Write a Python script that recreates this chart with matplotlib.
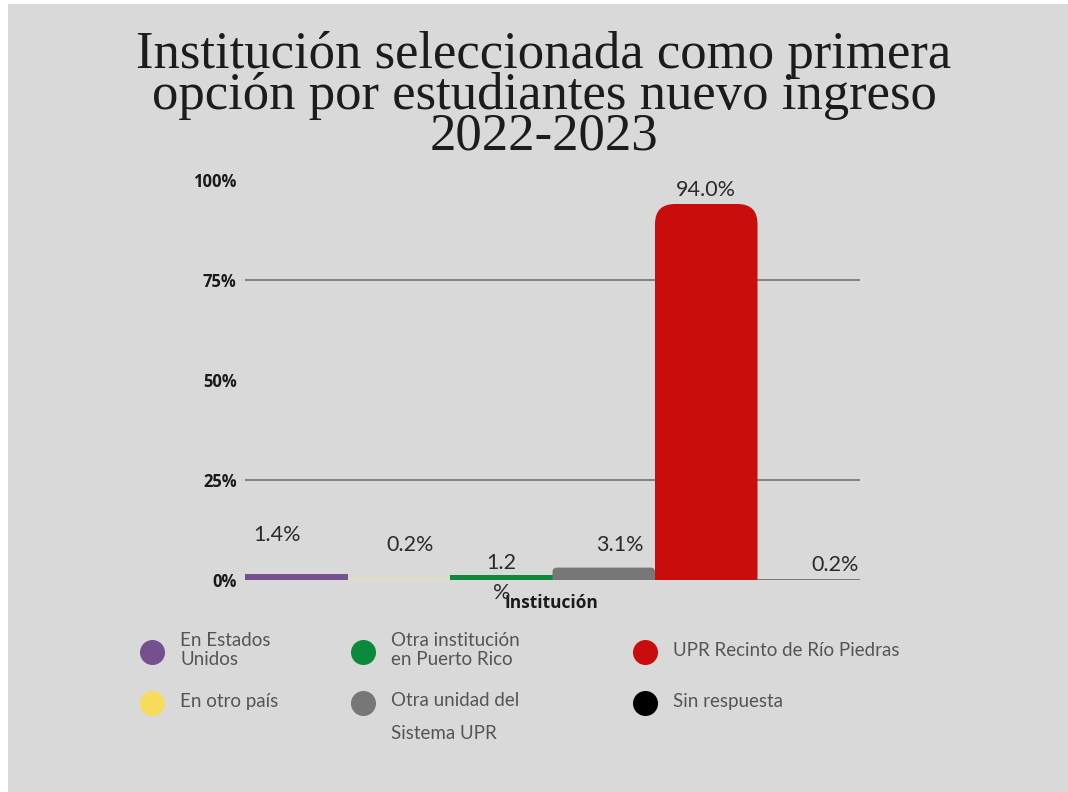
import matplotlib.pyplot as plt
from matplotlib.patches import FancyBboxPatch, Rectangle
from matplotlib.lines import Line2D

# data
categories = ['En Estados\nUnidos', 'En otro país', 'Otra institución\nen Puerto Rico',
              'Otra unidad del\n\nSistema UPR', 'UPR Recinto de Río Piedras', 'Sin respuesta']
values = [1.4, 0.2, 1.2, 3.1, 94.0, 0.2]
value_labels = ['1.4%', '0.2%', '1.2\n%', '3.1%', '94.0%', '0.2%']
bar_colors = ['#74508f', '#efe0a0', '#0a8a3a', '#777777', '#c90c0c', '#777777']
legend_colors = ['#74508f', '#f7dc5c', '#0a8a3a', '#777777', '#c90c0c', '#000000']
yticks = [0, 25, 50, 75, 100]
ytick_labels = ['0%', '25%', '50%', '75%', '100%']
gridlines = [25, 75]

BG = '#d9d9d9'
W, H = 1068, 792

fig = plt.figure(figsize=(W / 100, H / 100), dpi=100)
fig.patch.set_facecolor('white')
fig.add_artist(Rectangle((8 / W, 0), 1 - 8 / W, 1 - 4 / H, transform=fig.transFigure,
                         facecolor=BG, edgecolor='none', zorder=-10))

ax = fig.add_axes([245 / W, 1 - 580 / H, 615 / W, 400 / H])
ax.set_facecolor('none')
ax.set_xlim(-0.5, len(values) - 0.5)
ax.set_ylim(0, 100)

for g in gridlines:
    ax.axhline(g, color='#6a6a6a', lw=1.1, zorder=1)
ax.axhline(0, color='#8a8a8a', lw=1.1, zorder=1)

# bars, with rounded tops (px per unit: x 102.5, y 4)
px_x = 615 / len(values)
px_y = 400 / 100
aspect = px_x / px_y
bars = ax.bar(range(len(values)), values, width=1.0, color=bar_colors, zorder=2)
for b, v in zip(bars, values):
    h_px = v * px_y
    if h_px < 8:
        continue
    r_px = min(20, 0.35 * h_px)
    r = r_px / px_x
    x0, w = b.get_x(), b.get_width()
    b.remove()
    p = FancyBboxPatch((x0, -v), w, 2 * v,
                       boxstyle=f'round,pad=0,rounding_size={r}',
                       mutation_aspect=aspect, facecolor=b.get_facecolor(),
                       edgecolor='none', zorder=2)
    ax.add_patch(p)

# value labels (offsets in pixels from bar top)
label_offsets = [(-19, 39), (11, 34), (0, -3), (16, 23), (0, 14), (26, 14)]
for i, (v, t) in enumerate(zip(values, value_labels)):
    dx, dy = label_offsets[i]
    ax.annotate(t, (i, v), xytext=(dx, dy), textcoords='offset pixels',
                ha='center', va='center', fontsize=15.5, family='Lato',
                color='#2b2b2b', zorder=5, linespacing=1.65)

for s in ax.spines.values():
    s.set_visible(False)
ax.set_xticks([])
ax.set_yticks(yticks)
ax.set_yticklabels(ytick_labels, fontsize=12, fontweight='bold', family='Open Sans',
                   color='#1a1a1a')
for lbl in ax.get_yticklabels():
    lbl.set_verticalalignment('center_baseline')
ax.tick_params(axis='y', length=0, pad=6)
ax.set_xlabel('Institución', fontsize=12.5, fontweight='bold', family='Open Sans',
              color='#1a1a1a')
ax.xaxis.set_label_coords(0.498, -0.035)

# title
fig.text(544 / W, 1 - 96 / H,
         'Institución seleccionada como primera\nopción por estudiantes nuevo ingreso\n2022-2023',
         ha='center', va='center', fontsize=38, family='Liberation Serif',
         color='#1c1c1c', linespacing=0.8)

# legend, laid out by hand
leg_pos = [(152, 652), (152, 703), (363, 652), (363, 703), (645, 652), (645, 703)]
for (x, y), lab, c in zip(leg_pos, categories, legend_colors):
    fig.add_artist(Line2D([x / W], [1 - y / H], marker='o', markersize=17,
                          color=c, transform=fig.transFigure, linestyle='none'))
    if '\n\n' in lab:
        ty, ls = y + 14, 0.98
    else:
        ty, ls = y - 2, 1.2
    fig.text((x + 28) / W, 1 - ty / H, lab, ha='left', va='center', fontsize=13.5,
             family='Lato', color='#555555', linespacing=ls)

fig.savefig('out.png', dpi=100, facecolor=fig.get_facecolor())
